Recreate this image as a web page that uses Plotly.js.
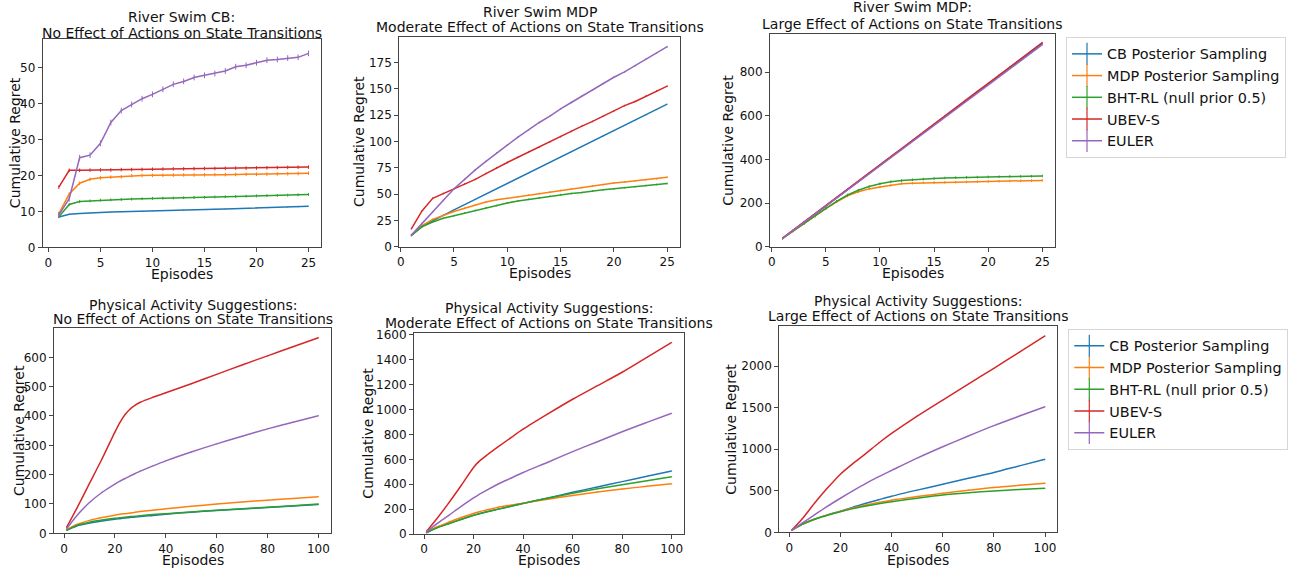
<!DOCTYPE html>
<html>
<head>
<meta charset="utf-8">
<script src="https://cdn.plot.ly/plotly-3.0.1.min.js"></script>
<style>html,body{margin:0;padding:0;background:#fff;}#chart{width:1298px;height:572px;}</style>
</head>
<body>
<div id="chart"></div>
<script>
// ---------------- DATA ----------------
const seriesNames = ['CB Posterior Sampling', 'MDP Posterior Sampling', 'BHT-RL (null prior 0.5)', 'UBEV-S', 'EULER'];

const panelTitles = [
  ['River Swim CB:', 'No Effect of Actions on State Transitions'],
  ['River Swim MDP', 'Moderate Effect of Actions on State Transitions'],
  ['River Swim MDP:', 'Large Effect of Actions on State Transitions'],
  ['Physical Activity Suggestions:', 'No Effect of Actions on State Transitions'],
  ['Physical Activity Suggestions:', 'Moderate Effect of Actions on State Transitions'],
  ['Physical Activity Suggestions:', 'Large Effect of Actions on State Transitions']
];
const xLabel = 'Episodes';
const yLabel = 'Cumulative Regret';

// River Swim: episodes 1..25
const rsEpisodes = [1, 2, 3, 4, 5, 6, 7, 8, 9, 10, 11, 12, 13, 14, 15, 16, 17, 18, 19, 20, 21, 22, 23, 24, 25];

// River Swim CB, no effect
const rsNoneCB    = [8.4, 9.2, 9.4, 9.6, 9.7, 9.8, 9.9, 10.0, 10.05, 10.15, 10.2, 10.3, 10.4, 10.45, 10.5, 10.6, 10.65, 10.75, 10.8, 10.9, 10.95, 11.05, 11.1, 11.2, 11.4];
const rsNoneMDP   = [9.4, 14.8, 17.8, 18.9, 19.3, 19.5, 19.6, 19.9, 19.95, 20.0, 20.0, 20.05, 20.1, 20.1, 20.15, 20.2, 20.2, 20.25, 20.3, 20.3, 20.35, 20.4, 20.45, 20.5, 20.6];
const rsNoneBHT   = [8.5, 11.9, 12.7, 12.9, 13.1, 13.2, 13.3, 13.4, 13.5, 13.6, 13.65, 13.7, 13.8, 13.85, 13.9, 14.0, 14.05, 14.1, 14.2, 14.3, 14.35, 14.4, 14.5, 14.6, 14.7];
const rsNoneUBEV  = [16.7, 21.4, 21.4, 21.45, 21.5, 21.5, 21.6, 21.6, 21.65, 21.7, 21.75, 21.8, 21.8, 21.85, 21.9, 21.9, 21.95, 22.0, 22.0, 22.05, 22.1, 22.15, 22.2, 22.25, 22.3];
const rsNoneEULER = [9.0, 13.5, 24.9, 25.6, 28.9, 34.7, 38.0, 39.7, 41.3, 42.5, 43.9, 45.3, 46.1, 47.2, 47.8, 48.3, 49.0, 50.2, 50.6, 51.3, 52.0, 52.2, 52.6, 52.8, 53.9];
const rsNoneErr   = [0.1, 0.5, 0.4, 0.5, 0.8];

// River Swim MDP, moderate effect
const rsModCB    = [11, 19, 24.5, 30, 35, 40, 45, 50, 55, 60, 65, 70, 75, 80, 85, 90, 95, 100, 105, 110, 115, 120, 125, 130, 135.5];
const rsModMDP   = [11, 20, 26, 30, 33.5, 36.5, 39.5, 42.5, 44.5, 46, 47.5, 49, 50.5, 52, 53.5, 55, 56, 57.5, 59, 60.5, 61.5, 62.5, 63.5, 64.5, 66];
const rsModBHT   = [10.5, 19, 23.5, 27, 29.5, 32, 34.5, 37, 39, 41.5, 43.5, 45, 46.5, 48, 49.5, 50.5, 51.5, 53, 54, 55, 56, 57, 58, 59, 60];
const rsModUBEV  = [17, 34, 46, 50.5, 55, 59.5, 64, 69.5, 75, 80, 85, 90, 94.5, 99.5, 104.5, 109.5, 114.5, 119, 124, 129, 134, 138, 143, 148, 152.5];
const rsModEULER = [11, 22, 33, 44, 55, 64, 73, 81, 89, 96.5, 104, 111, 118, 124, 131, 137, 143, 149, 155, 161, 166, 172, 178, 184, 190];
const rsModErr   = [0.3, 0.8, 0.8, 0.8, 0.8];

// River Swim MDP, large effect
const rsLargeCB    = [38, 75, 113, 150, 187, 225, 262, 299, 336, 374, 411, 448, 485, 523, 560, 597, 634, 672, 709, 746, 783, 820, 858, 895, 932];
const rsLargeMDP   = [38, 73, 107, 141, 175, 206, 233, 252, 265, 274, 282, 289, 291, 293, 294, 295, 296, 297, 298, 299, 300, 301, 302, 303, 304];
const rsLargeBHT   = [38, 73, 107, 141, 176, 208, 237, 259, 276, 289, 298, 303, 307, 310, 313, 315, 317, 318, 319, 320, 321, 322, 322, 323, 324];
const rsLargeUBEV  = [39, 76, 114, 151, 188, 226, 263, 300, 338, 375, 413, 450, 488, 525, 562, 600, 637, 674, 712, 749, 786, 824, 861, 899, 936];
const rsLargeEULER = [38, 75, 112, 149, 186, 224, 261, 298, 335, 372, 409, 446, 483, 521, 558, 595, 632, 669, 706, 743, 780, 817, 854, 890, 926];
const rsLargeErr   = [2, 6, 6, 3, 3];

// Physical Activity, no effect
const paNoneEpisodes = [1, 5, 10, 15, 20, 22, 24, 26, 28, 30, 35, 40, 50, 60, 70, 80, 90, 100];
const paNoneCB    = [10, 25, 35, 42, 48, 50, 52, 54, 56, 57, 61, 65, 72, 78, 83, 88, 93, 98];
const paNoneMDP   = [12, 30, 44, 54, 62, 65, 67, 69, 72, 74, 79, 84, 92, 100, 107, 113, 119, 125];
const paNoneBHT   = [10, 27, 38, 45, 51, 53, 55, 57, 58, 60, 64, 67, 73, 79, 84, 89, 94, 100];
const paNoneUBEV  = [20, 85, 170, 255, 345, 378, 405, 424, 437, 447, 464, 479, 510, 542, 574, 605, 636, 667];
const paNoneEULER = [15, 60, 105, 140, 168, 178, 187, 196, 204, 212, 230, 247, 277, 305, 331, 356, 379, 401];
const paNoneErr   = [1, 1.5, 1, 1.5, 1.5];

// Physical Activity, moderate effect
const paModEpisodes = [1, 5, 10, 15, 20, 22, 25, 30, 35, 40, 50, 60, 70, 80, 90, 100];
const paModCB    = [10, 50, 85, 118, 150, 162, 177, 200, 222, 245, 290, 335, 378, 421, 464, 507];
const paModMDP   = [12, 55, 95, 132, 165, 177, 192, 215, 232, 248, 280, 310, 338, 362, 383, 403];
const paModBHT   = [10, 48, 82, 117, 150, 161, 176, 200, 223, 246, 288, 328, 364, 396, 428, 460];
const paModUBEV  = [20, 118, 250, 390, 535, 580, 628, 702, 773, 842, 965, 1083, 1192, 1300, 1420, 1540];
const paModEULER = [15, 80, 150, 222, 290, 315, 348, 402, 448, 494, 577, 662, 742, 822, 897, 970];
const paModErr   = [2, 5, 3, 3, 3];

// Physical Activity, large effect
const paLargeEpisodes = [1, 5, 10, 15, 20, 25, 30, 35, 40, 50, 60, 70, 80, 90, 100];
const paLargeCB    = [25, 95, 160, 210, 255, 303, 350, 393, 435, 508, 578, 650, 720, 800, 880];
const paLargeMDP   = [25, 95, 160, 210, 252, 293, 330, 360, 387, 430, 470, 506, 540, 566, 590];
const paLargeBHT   = [25, 95, 158, 206, 248, 285, 318, 345, 368, 410, 448, 475, 498, 515, 530];
const paLargeUBEV  = [28, 160, 355, 535, 700, 830, 950, 1075, 1190, 1400, 1593, 1785, 1975, 2170, 2365];
const paLargeEULER = [25, 110, 212, 315, 410, 502, 590, 670, 745, 893, 1030, 1160, 1285, 1400, 1512];
const paLargeErr   = [3, 8, 4, 4, 4];

// ---------------- BUILD ----------------
const colors = ['#1f77b4', '#ff7f0e', '#2ca02c', '#d62728', '#9467bd'];
const FONT = 'DejaVu Sans, Verdana, sans-serif';
const W = 1298, H = 572;
const fx = v => v / W;
const fy = v => 1 - v / H;

const panels = [
  {x: rsEpisodes, ys: [rsNoneCB, rsNoneMDP, rsNoneBHT, rsNoneUBEV, rsNoneEULER], err: rsNoneErr,
   box: [42.7, 321, 39, 247.3], xr: [-0.55, 26.2], yr: [0, 57.9], xd: 5, yd: 10,
   t1: 16.7, t2: 32.8, ylab: 15, xlab: 273.5, smooth: false},
  {x: rsEpisodes, ys: [rsModCB, rsModMDP, rsModBHT, rsModUBEV, rsModEULER], err: rsModErr,
   box: [399.3, 680, 36.7, 246.7], xr: [-0.13, 26.2], yr: [0, 199.5], xd: 5, yd: 25,
   t1: 11.7, t2: 26.7, ylab: 358.3, xlab: 273.3, smooth: false},
  {x: rsEpisodes, ys: [rsLargeCB, rsLargeMDP, rsLargeBHT, rsLargeUBEV, rsLargeEULER], err: rsLargeErr,
   box: [770, 1055.3, 34, 246.7], xr: [-0.16, 26.2], yr: [0, 975], xd: 5, yd: 200,
   t1: 7.3, t2: 24, ylab: 728.5, xlab: 273.3, smooth: false},
  {x: paNoneEpisodes, ys: [paNoneCB, paNoneMDP, paNoneBHT, paNoneUBEV, paNoneEULER], err: paNoneErr,
   box: [54, 331, 328.3, 533.3], xr: [-3.95, 104.95], yr: [0, 699], xd: 20, yd: 100,
   t1: 305, t2: 319.3, ylab: 18.3, xlab: 560, smooth: true},
  {x: paModEpisodes, ys: [paModCB, paModMDP, paModBHT, paModUBEV, paModEULER], err: paModErr,
   box: [414, 684, 332.7, 534], xr: [-4.04, 104.97], yr: [0, 1618], xd: 20, yd: 200,
   t1: 308.3, t2: 322.7, ylab: 368.3, xlab: 560, smooth: true},
  {x: paLargeEpisodes, ys: [paLargeCB, paLargeMDP, paLargeBHT, paLargeUBEV, paLargeEULER], err: paLargeErr,
   box: [779.3, 1057.3, 325.7, 532.3], xr: [-3.9, 104.8], yr: [0, 2488], xd: 20, yd: 500,
   t1: 300.7, t2: 316, ylab: 730.7, xlab: 560, smooth: true}
];

const data = [];
const legendStyle = {
  xanchor: 'left', yanchor: 'top',
  bgcolor: 'rgba(255,255,255,0.9)', bordercolor: '#d6d6d6', borderwidth: 1,
  font: {family: FONT, size: 14.4, color: '#111'}, itemwidth: 30, tracegroupgap: 0
};
const layout = {
  width: W, height: H,
  margin: {l: 0, r: 0, t: 0, b: 0},
  paper_bgcolor: '#ffffff', plot_bgcolor: '#ffffff',
  font: {family: FONT, color: '#111', size: 12},
  showlegend: true,
  annotations: [],
  legend: Object.assign({x: fx(1066), y: fy(37)}, legendStyle),
  legend2: Object.assign({x: fx(1068.3), y: fy(329)}, legendStyle)
};

panels.forEach((p, i) => {
  const n = i + 1;
  const xa = 'xaxis' + (n === 1 ? '' : n);
  const ya = 'yaxis' + (n === 1 ? '' : n);
  const xref = 'x' + (n === 1 ? '' : n);
  const yref = 'y' + (n === 1 ? '' : n);
  const [l, r, t, b] = p.box;
  const axCommon = {
    showline: true, mirror: true, linecolor: '#444', linewidth: 1,
    ticks: 'outside', ticklen: 4, tickwidth: 1, tickcolor: '#444',
    showgrid: false, zeroline: false,
    tickfont: {family: FONT, size: 12, color: '#111'}
  };
  layout[xa] = Object.assign({}, axCommon, {
    domain: [fx(l), fx(r)], range: p.xr, dtick: p.xd, tick0: 0, anchor: yref
  });
  layout[ya] = Object.assign({}, axCommon, {
    domain: [fy(b), fy(t)], range: p.yr, dtick: p.yd, tick0: 0, anchor: xref
  });
  p.ys.forEach((ys, k) => {
    data.push({
      type: 'scatter', mode: 'lines', x: p.x, y: ys, xaxis: xref, yaxis: yref,
      name: seriesNames[k], showlegend: false,
      line: p.smooth ? {color: colors[k], width: 1.5, shape: 'spline', smoothing: 0.8}
                     : {color: colors[k], width: 1.5},
      error_y: {type: 'constant', value: p.err[k], color: colors[k], thickness: 1, width: 0}
    });
  });
  const cx = (l + r) / 2;
  const f14 = {family: FONT, size: 14, color: '#111'};
  layout.annotations.push(
    {xref: 'paper', yref: 'paper', x: fx(cx), y: fy(p.t1), xanchor: 'center', yanchor: 'middle',
     text: panelTitles[i][0], showarrow: false, font: f14},
    {xref: 'paper', yref: 'paper', x: fx(cx), y: fy(p.t2), xanchor: 'center', yanchor: 'middle',
     text: panelTitles[i][1], showarrow: false, font: f14},
    {xref: 'paper', yref: 'paper', x: fx(cx), y: fy(p.xlab), xanchor: 'center', yanchor: 'middle',
     text: xLabel, showarrow: false, font: f14},
    {xref: 'paper', yref: 'paper', x: fx(p.ylab), y: fy((t + b) / 2), xanchor: 'center', yanchor: 'middle',
     text: yLabel, textangle: -90, showarrow: false, font: f14}
  );
});

// legend entries (errorbar-style "+" symbol)
['legend', 'legend2'].forEach((lg, j) => {
  seriesNames.forEach((nm, k) => {
    data.push({
      type: 'scatter', mode: 'lines+markers', x: [null], y: [null],
      xaxis: j === 0 ? 'x3' : 'x6', yaxis: j === 0 ? 'y3' : 'y6',
      name: nm, legend: lg, showlegend: true,
      line: {color: colors[k], width: 1.5},
      marker: {symbol: 'line-ns-open', size: 16, color: colors[k], line: {color: colors[k], width: 1.2}}
    });
  });
});

Plotly.newPlot('chart', data, layout, {displayModeBar: false, staticPlot: true});
</script>
</body>
</html>
